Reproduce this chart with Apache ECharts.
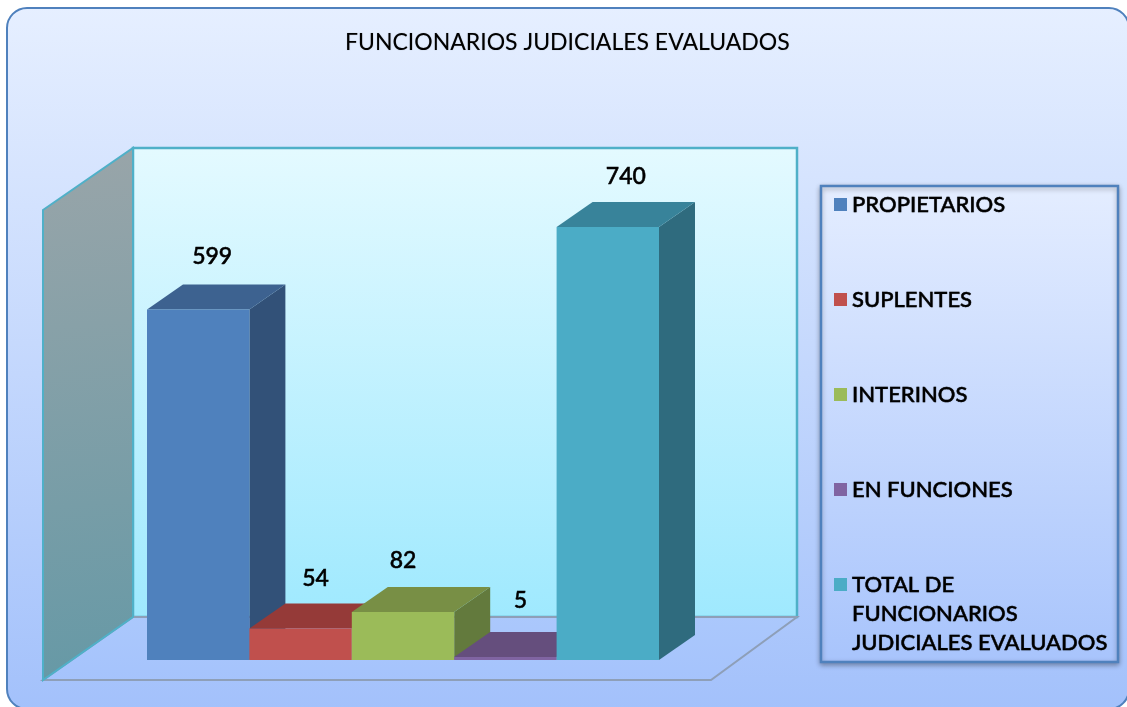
<!DOCTYPE html>
<html><head><meta charset="utf-8">
<style>html,body{margin:0;padding:0;background:#fff}#c{width:1127px;height:707px}</style>
<script src="https://cdn.jsdelivr.net/npm/echarts@6/dist/echarts.min.js"></script>
</head><body><div id="c"></div>
<script>
const titleText = 'FUNCIONARIOS JUDICIALES EVALUADOS';
const categories = ['PROPIETARIOS','SUPLENTES','INTERINOS','EN FUNCIONES','TOTAL DE FUNCIONARIOS JUDICIALES EVALUADOS'];
const values = [599,54,82,5,740];
const legendLines = [['PROPIETARIOS'],['SUPLENTES'],['INTERINOS'],['EN FUNCIONES'],['TOTAL DE','FUNCIONARIOS','JUDICIALES EVALUADOS']];
const frontColors = ['#4f81bd','#c0504d','#9bbb59','#8064a2','#4bacc6'];
const topColors = ['#3d6290','#953a38','#788f45','#654e7d','#38839a'];
const sideColors = ['#325178','#7c302e','#637a3d','#523f68','#2f6b7e'];
const labelNudge = [[14,-28],[15,-25],[0,-26],[15,-31],[18,-26]];
const DX = 36, DY = 25;
const FONT = 'Lato, "Open Sans", sans-serif';

function lin(x,y,x2,y2,a,b){return {type:'linear',x,y,x2,y2,colorStops:[{offset:0,color:a},{offset:1,color:b}]};}
function renderBar(i){
  return function(params, api){
    const top = api.coord([api.value(0), api.value(1)]);
    const base = api.coord([api.value(0), 0]);
    const w = api.size([1,0])[0];
    const l = top[0]-w/2, r = top[0]+w/2, t = top[1], b = base[1];
    return {type:'group', children:[
      {type:'polygon',shape:{points:[[r,t],[r+DX,t-DY],[r+DX,b-DY],[r,b]]},style:{fill:sideColors[i]}},
      {type:'polygon',shape:{points:[[l,t],[l+DX,t-DY],[r+DX,t-DY],[r,t]]},style:{fill:topColors[i]}},
      {type:'rect',shape:{x:l,y:t,width:r-l,height:b-t},style:{fill:frontColors[i]}},
      {type:'text',x:top[0]+labelNudge[i][0],y:t-DY+labelNudge[i][1],style:{text:String(api.value(1)),fill:'#000',font:'500 23px '+FONT,align:'center',verticalAlign:'middle',stroke:'#000',lineWidth:0.5},z2:50}
    ]};
  };
}
const series = categories.map((name,i)=>({
  type:'custom',name,renderItem:renderBar(i),itemStyle:{color:frontColors[i]},
  encode:{x:0,y:1},data:[[i,values[i]]],z:3+i,clip:false,silent:true
}));
function legendText(name){
  const lines = legendLines[categories.indexOf(name)];
  const out = ['',''].concat(lines);
  while(out.length<5) out.push(' ');
  return out.join('\n');
}
const graphics = [
  {type:'rect',shape:{x:7,y:8,width:1122,height:701,r:20},style:{fill:lin(0,0,0,1,'#e6efff','#a3c1fb'),stroke:'#4f81bd',lineWidth:2},z:0},
  {type:'rect',shape:{x:133,y:148,width:664,height:469},style:{fill:lin(0,0,0,1,'#e4faff','#9fe9fe'),stroke:'#4fb0c8',lineWidth:2.5},z:1},
  {type:'polygon',shape:{points:[[43,680],[711,680],[797,617],[133,617]]},style:{fill:lin(0,0,0,1,'#abc8fc','#a5c3fc'),stroke:'#8e9fb8',lineWidth:2},z:1},
  {type:'polygon',shape:{points:[[43,210],[133,148],[133,617],[43,680]]},style:{fill:lin(0.2,0,0.8,1,'#99a5a9','#6699a6'),stroke:'#4fb0c8',lineWidth:2},z:2},
  {type:'rect',shape:{x:821,y:186,width:297,height:476},style:{fill:lin(0,0,0,1,'#e4edff','#a8c4fc'),stroke:'#4f81bd',lineWidth:2.5,shadowBlur:5,shadowColor:'rgba(0,0,0,0.3)',shadowOffsetY:2},z:2}
];
const chart = echarts.init(document.getElementById('c'),null,{renderer:'canvas'});
chart.setOption({
  animation:false,
  backgroundColor:'#fff',
  title:{text:titleText,left:345,top:31,padding:0,textStyle:{fontFamily:FONT,fontWeight:'normal',fontSize:23,color:'#000',textShadowColor:'rgba(0,0,0,0.35)',textShadowBlur:1}},
  grid:{left:147,width:512,top:192,height:468,containLabel:false},
  xAxis:{type:'category',data:categories,show:false},
  yAxis:{type:'value',min:0,max:800,show:false},
  legend:{orient:'vertical',left:834,top:132,padding:0,itemGap:-50,itemWidth:13,itemHeight:13,icon:'rect',selectedMode:false,
    data:categories,formatter:legendText,
    textStyle:{fontFamily:FONT,fontSize:22,fontWeight:500,color:'#000',lineHeight:29,textBorderColor:'#000',textBorderWidth:0.4,textShadowColor:'rgba(0,0,0,0.3)',textShadowBlur:1}},
  graphic:graphics,
  series
});
</script></body></html>
